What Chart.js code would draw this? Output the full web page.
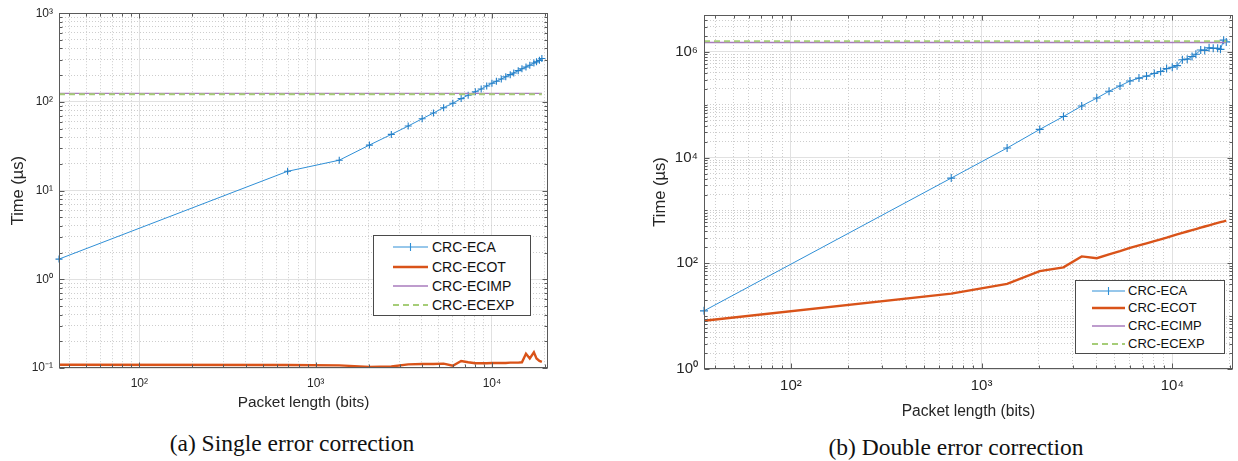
<!DOCTYPE html>
<html>
<head>
<meta charset="utf-8">
<script src="https://cdn.jsdelivr.net/npm/chart.js@4.4.1/dist/chart.umd.min.js"></script>
<style>
  body { margin: 0; background: #fff; width: 1238px; height: 461px; position: relative; overflow: hidden; font-family: 'Liberation Sans', Arial, sans-serif; }
  canvas { position: absolute; top: 0; }
  .legend { position: absolute; background: #fff; border: 1px solid #4a4a4a; box-sizing: border-box; color: #111; }
  .legend svg { position: absolute; }
  .legend span { position: absolute; white-space: nowrap; }
  .caption { position: absolute; width: 400px; height: 30px; line-height: 30px; text-align: center; color: #111;
             font-family: 'Liberation Serif', 'Times New Roman', serif; font-size: 23.5px; }
</style>
</head>
<body>
<canvas id="chartA" width="560" height="420" style="left:0"></canvas>
<canvas id="chartB" width="618" height="430" style="left:620px"></canvas>
<div class="legend" id="legA" style="left:373px;top:235px;width:158px;height:81px"></div>
<div class="legend" id="legB" style="left:1075px;top:280px;width:150px;height:74px"></div>
<div class="caption" style="left:92px;top:428px">(a) Single error correction</div>
<div class="caption" style="left:756px;top:432px">(b) Double error correction</div>
<script>
// packet lengths (bits), shared by both panels
const packetLength = [35, 693, 1361, 2018, 2687, 3350, 4020, 4660, 5320, 6000, 6690, 7330, 8050, 8690, 9340,
  10000, 10600, 11300, 11980, 12700, 13300, 14100, 14800, 15600, 16400, 17300, 17900, 18600, 19200];

// (a) single error correction, time in µs
const singleEca = [1.69, 16.5, 22, 32.6, 43, 53.5, 64.5, 75, 86, 96.6, 109, 119, 130, 140, 151,
  162, 171, 181, 192, 203, 212, 225, 236, 247, 259, 274, 283, 294, 308];
const singleEcot = [0.109, 0.108, 0.107, 0.103, 0.104, 0.110, 0.111, 0.111, 0.112, 0.106, 0.120, 0.116, 0.113, 0.113, 0.113,
  0.114, 0.114, 0.114, 0.114, 0.115, 0.115, 0.115, 0.116, 0.145, 0.128, 0.150, 0.128, 0.120, 0.117];
const singleImp = 125;
const singleExp = 122;

// (b) double error correction, time in µs
const doubleEca = [12.6, 4100, 15200, 34200, 60000, 95000, 134000, 180000, 227000, 282000, 320000, 349000, 392000, 427000, 484000,
  512000, 550000, 711000, 730000, 818000, 903000, 1090000, 1070000, 1200000, 1170000, 1170000, 1120000, 1670000, 1550000];
const doubleEcot = [8.2, 26.7, 40.8, 71, 84, 135, 125, 148, 170, 196, 218, 238, 262, 283, 305,
  330, 352, 376, 400, 424, 445, 472, 497, 524, 552, 582, 600, 620, 640];
const doubleImp = 1.51e6;
const doubleExp = 1.6e6;

const seriesNames = ['CRC-ECA', 'CRC-ECOT', 'CRC-ECIMP', 'CRC-ECEXP'];
const xTickLabels = [1e2, 1e3, 1e4];
const yTickLabelsSingle = [1e-1, 1e0, 1e1, 1e2, 1e3];
const yTickLabelsDouble = [1e0, 1e2, 1e4, 1e6];

const colors = { eca: '#2f8fd6', ecot: '#d95319', imp: '#a87bbd', exp: '#a6cd78' };

Chart.defaults.font.family = "'Liberation Sans', Arial, sans-serif";
Chart.defaults.color = '#262626';

const SUP = { '-': '\u207B', '0': '\u2070', '1': '\u00B9', '2': '\u00B2', '3': '\u00B3', '4': '\u2074',
  '5': '\u2075', '6': '\u2076', '7': '\u2077', '8': '\u2078', '9': '\u2079' };
function powLabel(v) {
  const e = Math.round(Math.log10(v));
  return '10' + String(e).split('').map(c => SUP[c]).join('');
}

function logAxis(o) {
  const isMajor = v => o.labels.some(l => Math.abs(Math.log10(l) - Math.log10(v)) < 1e-6);
  return {
    type: 'logarithmic',
    min: o.min,
    max: o.max,
    // keep only 1..9 x 10^n ticks, like matlab's log grid
    afterBuildTicks: scale => {
      scale.ticks = scale.ticks.filter(t => {
        const e = Math.floor(Math.log10(t.value) + 1e-9);
        const m = t.value / Math.pow(10, e);
        return Math.abs(m - Math.round(m)) < 1e-6;
      });
      scale.$isMajor = isMajor;
    },
    afterFit: s => {
      if (o.fitWidth) s.width = o.fitWidth;
      if (o.fitHeight) s.height = o.fitHeight;
    },
    ticks: {
      autoSkip: false, maxRotation: 0, padding: o.labelPad,
      font: { size: o.fontSize },
      callback: v => isMajor(v) ? powLabel(v) : ''
    },
    grid: {
      drawTicks: false,
      color: c => (c.tick && isMajor(c.tick.value)) ? '#e1e1e1' : '#cdcdcd'
    },
    border: {
      display: false,
      dash: c => (c.tick && isMajor(c.tick.value)) ? [] : [1, 2]
    },
    title: {
      display: true, text: o.title,
      font: { size: o.titleSize },
      padding: { top: o.titlePad, bottom: o.titlePad }
    }
  };
}

function buildDatasets(eca, ecot, imp, exp, markerRadius) {
  return [
    {
      label: seriesNames[0],
      data: packetLength.map((x, i) => ({ x: x, y: eca[i] })),
      borderColor: colors.eca, borderWidth: 1,
      pointStyle: 'cross', pointRadius: markerRadius, pointBorderWidth: 1.1,
      pointBorderColor: '#2580c8', clip: false, order: 4
    },
    {
      label: seriesNames[1],
      data: packetLength.map((x, i) => ({ x: x, y: ecot[i] })),
      borderColor: colors.ecot, borderWidth: 2.4, pointRadius: 0, order: 3
    },
    {
      label: seriesNames[2],
      data: packetLength.map(x => ({ x: x, y: imp })),
      borderColor: colors.imp, borderWidth: 1.3, pointRadius: 0, order: 2
    },
    {
      label: seriesNames[3],
      data: packetLength.map(x => ({ x: x, y: exp })),
      borderColor: colors.exp, borderWidth: 2, borderDash: [6, 4], pointRadius: 0, order: 1
    }
  ];
}

// matlab-like box with inward tick marks
const frame = {
  id: 'frame',
  afterDatasetsDraw(chart) {
    const { ctx, chartArea: a } = chart;
    const xs = chart.scales.x, ys = chart.scales.y;
    const L = Math.round(a.left) + 0.5, R = Math.round(a.right) - 0.5;
    const T = Math.round(a.top) + 0.5, B = Math.round(a.bottom) - 0.5;
    ctx.save();
    ctx.strokeStyle = '#5a5a5a';
    ctx.lineWidth = 1;
    ctx.setLineDash([]);
    ctx.beginPath();
    xs.ticks.forEach(t => {
      const p = Math.round(xs.getPixelForValue(t.value)) + 0.5;
      const len = xs.$isMajor(t.value) ? 5 : 3;
      ctx.moveTo(p, B); ctx.lineTo(p, B - len);
      ctx.moveTo(p, T); ctx.lineTo(p, T + len);
    });
    ys.ticks.forEach(t => {
      const p = Math.round(ys.getPixelForValue(t.value)) + 0.5;
      const len = ys.$isMajor(t.value) ? 5 : 3;
      ctx.moveTo(L, p); ctx.lineTo(L + len, p);
      ctx.moveTo(R, p); ctx.lineTo(R - len, p);
    });
    ctx.stroke();
    ctx.strokeRect(L, T, R - L, B - T);
    ctx.restore();
  }
};

new Chart(document.getElementById('chartA'), {
  type: 'line',
  data: { datasets: buildDatasets(singleEca, singleEcot, singleImp, singleExp, 3.5) },
  options: {
    responsive: false, animation: false, events: [],
    layout: { padding: { top: 12, right: 12, left: 0, bottom: 0 } },
    plugins: { legend: { display: false }, tooltip: { enabled: false } },
    scales: {
      x: logAxis({ min: 35, max: 20800, labels: xTickLabels, fontSize: 12, labelPad: 8,
        title: 'Packet length (bits)', titleSize: 15.4, titlePad: 7.8, fitHeight: 52 }),
      y: logAxis({ min: 0.1, max: 1000, labels: yTickLabelsSingle, fontSize: 12, labelPad: 6,
        title: 'Time (\u00B5s)', titleSize: 16.5, titlePad: 8.6, fitWidth: 59 })
    }
  },
  plugins: [frame]
});

new Chart(document.getElementById('chartB'), {
  type: 'line',
  data: { datasets: buildDatasets(doubleEca, doubleEcot, doubleImp, doubleExp, 4) },
  options: {
    responsive: false, animation: false, events: [],
    layout: { padding: { top: 7, right: 3, left: 0, bottom: 0 } },
    plugins: { legend: { display: false }, tooltip: { enabled: false } },
    scales: {
      x: logAxis({ min: 35, max: 20800, labels: xTickLabels, fontSize: 15, labelPad: 8,
        title: 'Packet length (bits)', titleSize: 15.6, titlePad: 8.6, fitHeight: 61 }),
      y: logAxis({ min: 1, max: 5e6, labels: yTickLabelsDouble, fontSize: 15, labelPad: 6,
        title: 'Time (\u00B5s)', titleSize: 16.5, titlePad: 31, fitWidth: 84 })
    }
  },
  plugins: [frame]
});

// legends drawn as html overlays inside the plot area
const legendStyles = [
  { color: colors.eca, width: 1, marker: true },
  { color: colors.ecot, width: 2.4 },
  { color: colors.imp, width: 1.3 },
  { color: colors.exp, width: 2, dash: '6 4' }
];
function buildLegend(el, lay) {
  seriesNames.forEach((name, i) => {
    const st = legendStyles[i];
    const cy = lay.rows[i];
    const w = lay.lineEnd - lay.lineStart;
    let svg = '<svg width="' + w + '" height="12" style="left:' + lay.lineStart + 'px;top:' + (cy - 6) + 'px">' +
      '<line x1="0" y1="6" x2="' + w + '" y2="6" stroke="' + st.color + '" stroke-width="' + st.width + '"' +
      (st.dash ? ' stroke-dasharray="' + st.dash + '"' : '') + '/>';
    if (st.marker) svg += '<line x1="' + (w / 2) + '" y1="2" x2="' + (w / 2) + '" y2="10" stroke="' + st.color + '" stroke-width="1.1"/>';
    svg += '</svg>';
    el.insertAdjacentHTML('beforeend', svg +
      '<span style="left:' + lay.textX + 'px;top:' + (cy - 10) + 'px;line-height:20px;font-size:' + lay.fontSize + 'px">' + name + '</span>');
  });
}
buildLegend(document.getElementById('legA'), { rows: [10.7, 30.7, 50, 69], lineStart: 19, lineEnd: 54, textX: 58, fontSize: 14 });
buildLegend(document.getElementById('legB'), { rows: [9.7, 27.3, 45, 62.7], lineStart: 16, lineEnd: 49, textX: 52, fontSize: 13 });
</script>
</body>
</html>
